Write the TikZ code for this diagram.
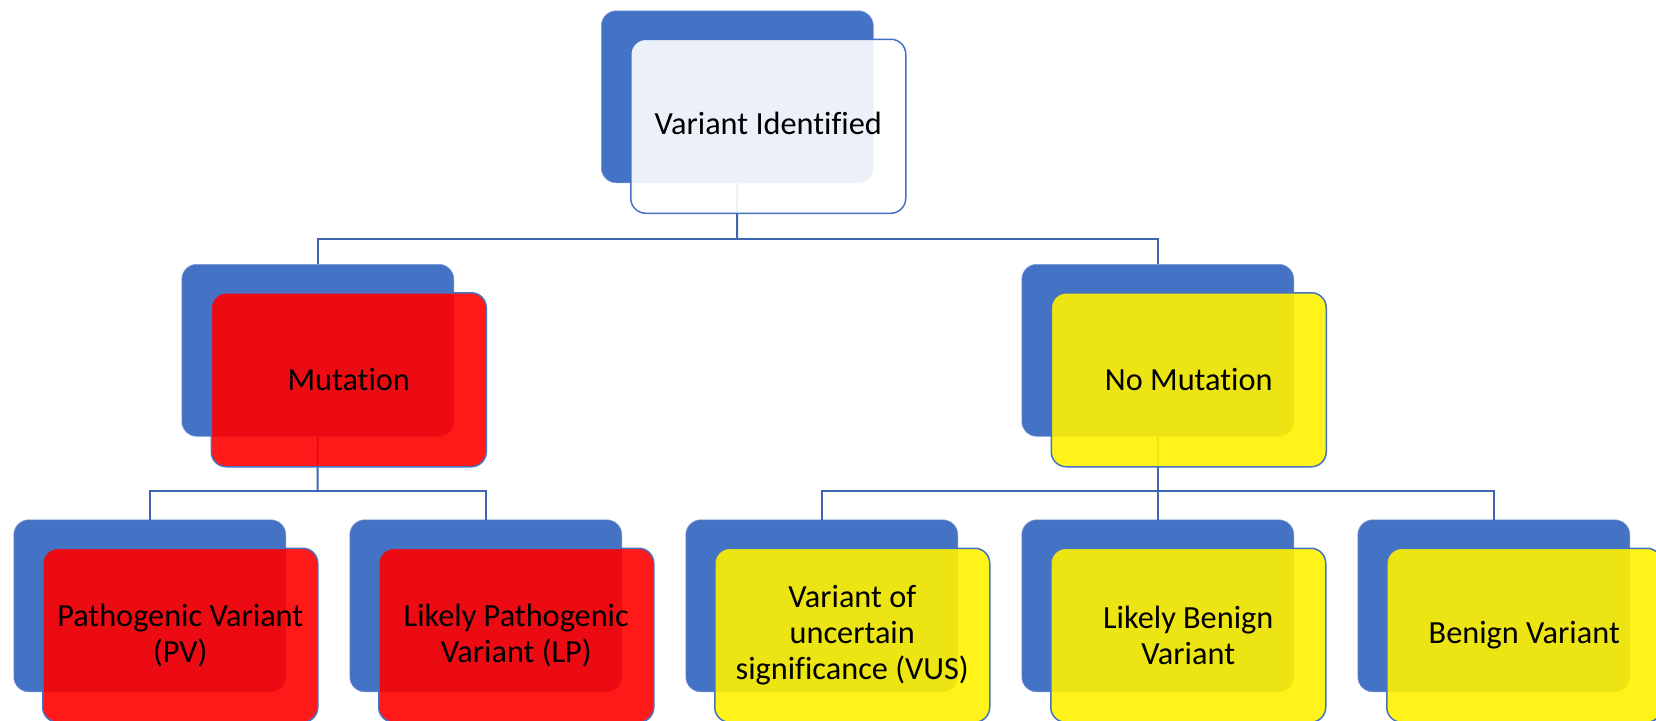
\documentclass[tikz,border=0pt]{standalone}
\usepackage{fontspec}
\setmainfont{Carlito}[Ligatures=NoCommon]
\definecolor{sblue}{HTML}{4472C4}
\definecolor{lnblue}{HTML}{3F66B0}
\tikzset{
  backbox/.style={rectangle, rounded corners=15pt, fill=sblue, draw=sblue!70!white, line width=0.6pt,
    minimum width=272pt, minimum height=172pt, anchor=north west, inner sep=0pt},
  frontbox/.style={rectangle, rounded corners=15pt, draw=sblue, line width=1.5pt, fill opacity=0.9,
    text opacity=1, minimum width=275pt, minimum height=174pt, anchor=north west, inner sep=0pt,
    align=center, font=\fontsize{32.3}{36}\selectfont, text=black},
  redf/.style={frontbox, fill=red},
  yelf/.style={frontbox, fill=yellow},
  whitef/.style={frontbox, fill=white},
  conn/.style={draw=lnblue, line width=2pt}
}
\begin{document}
\begin{tikzpicture}[x=1pt,y=-1pt]
\useasboundingbox (0,0) rectangle (1656,720);
\clip (0,0) rectangle (1656,720);
% back boxes
\node[backbox] (topb) at (601,10.5) {};
\node[backbox] (mutb) at (181.5,264) {};
\node[backbox] (nomb) at (1021.5,264) {};
\node[backbox] (pvb) at (13.5,519.5) {};
\node[backbox] (lpb) at (349.5,519.5) {};
\node[backbox] (vusb) at (685.5,519.5) {};
\node[backbox] (lbb) at (1021.5,519.5) {};
\node[backbox] (bvb) at (1357.5,519.5) {};
% connectors
\coordinate (bus1) at (737,239);
\coordinate (bus2) at (317.5,491);
\coordinate (bus3) at (1157.5,491);
\draw[conn] (topb.south) -- (bus1);
\draw[conn] (bus1) -| (mutb.north);
\draw[conn] (bus1) -| (nomb.north);
\draw[conn] (mutb.south) -- (bus2);
\draw[conn] (bus2) -| (pvb.north);
\draw[conn] (bus2) -| (lpb.north);
\draw[conn] (nomb.south) -- (lbb.north);
\draw[conn] (bus3) -| (vusb.north);
\draw[conn] (bus3) -| (bvb.north);
% front boxes
\node[whitef] (topf) at (630,38.5) {\raisebox{5pt}{Variant Identified}};
\node[redf] (mutf) at (210.5,292) {\raisebox{1.5pt}{Mutation}};
\node[yelf] (nomf) at (1050.5,292) {\raisebox{1.5pt}{No Mutation}};
\node[redf] (pvf) at (42,547.5) {Pathogenic Variant\\(PV)};
\node[redf] (lpf) at (378,547.5) {Likely Pathogenic\\Variant (LP)};
\node[yelf] (vusf) at (714,547.5) {Variant of\\uncertain\\significance (VUS)};
\node[yelf] (lbf) at (1050,547.5) {Likely Benign\\Variant};
\node[yelf] (bvf) at (1386,547.5) {Benign Variant};
\end{tikzpicture}
\end{document}
